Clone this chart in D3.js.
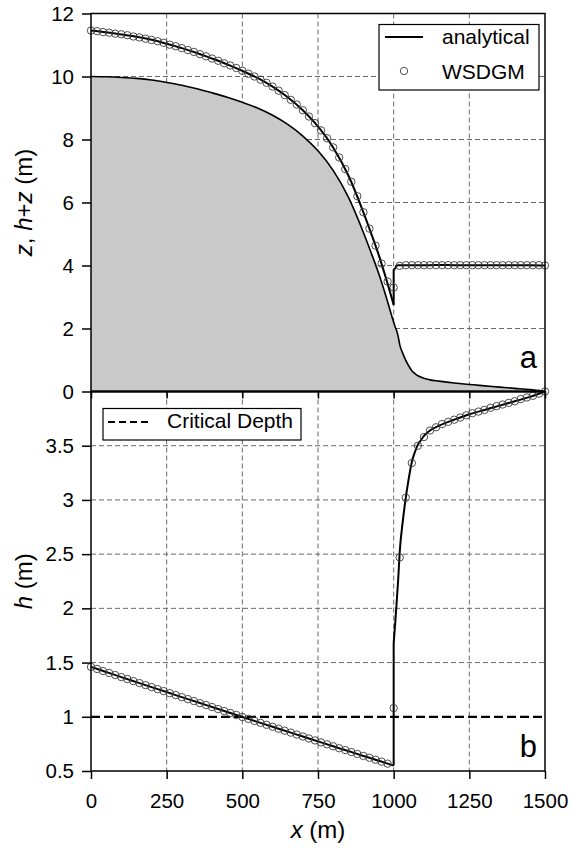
<!DOCTYPE html>
<html>
<head>
<meta charset="utf-8">
<script src="https://cdn.jsdelivr.net/npm/d3@7"></script>
<style>
  body { margin: 0; background: #fff; }
  text { font-family: "Liberation Sans", Arial, Helvetica, sans-serif; fill: #000; }
</style>
</head>
<body>
<svg id="chart" width="571" height="848"></svg>
<script>
// ---- Numerical (WSDGM) solution, sampled every 20 m ----
const gridX = [
  0, 20, 40, 60, 80, 100, 120, 140, 160, 180, 200, 220, 240, 260, 280, 300, 320, 340, 360, 380,
  400, 420, 440, 460, 480, 500, 520, 540, 560, 580, 600, 620, 640, 660, 680, 700, 720, 740, 760, 780,
  800, 820, 840, 860, 880, 900, 920, 940, 960, 980, 1000, 1020, 1040, 1060, 1080, 1100, 1120, 1140, 1160, 1180,
  1200, 1220, 1240, 1260, 1280, 1300, 1320, 1340, 1360, 1380, 1400, 1420, 1440, 1460, 1480, 1500
];
const wsdgmDepth = [
  1.460, 1.441, 1.422, 1.404, 1.385, 1.366, 1.348, 1.329, 1.311, 1.292, 1.274, 1.255, 1.237, 1.218, 1.200, 1.181, 1.163, 1.145, 1.126, 1.108,
  1.090, 1.071, 1.053, 1.035, 1.017, 0.998, 0.980, 0.962, 0.944, 0.926, 0.908, 0.890, 0.872, 0.854, 0.836, 0.818, 0.800, 0.782, 0.764, 0.746,
  0.728, 0.710, 0.693, 0.675, 0.657, 0.639, 0.622, 0.604, 0.586, 0.568, 1.08, 2.47, 3.02, 3.34, 3.50, 3.58, 3.64, 3.67, 3.70, 3.72,
  3.74, 3.76, 3.78, 3.80, 3.815, 3.83, 3.85, 3.865, 3.88, 3.895, 3.91, 3.93, 3.945, 3.96, 3.98, 4.00
];
const wsdgmStage = [
  11.46, 11.44, 11.41, 11.39, 11.36, 11.34, 11.31, 11.27, 11.24, 11.20, 11.16, 11.12, 11.07, 11.01, 10.96, 10.90, 10.84, 10.78, 10.71, 10.64,
  10.57, 10.50, 10.42, 10.35, 10.27, 10.18, 10.09, 10.00, 9.90, 9.80, 9.68, 9.55, 9.41, 9.26, 9.11, 8.93, 8.73, 8.52, 8.29, 8.04,
  7.75, 7.43, 7.06, 6.66, 6.20, 5.69, 5.17, 4.63, 4.06, 3.49, 3.30, 3.99, 4.01, 4.01, 4.01, 4.01, 4.01, 4.01, 4.01, 4.01,
  4.01, 4.01, 4.01, 4.01, 4.01, 4.01, 4.01, 4.01, 4.01, 4.01, 4.01, 4.01, 4.01, 4.01, 4.01, 4.00
];

// ---- Analytical solution: supercritical reach upstream of the jump ----
const preX     = [0, 50, 100, 150, 200, 250, 300, 350, 400, 450, 500, 550, 600, 650, 700, 750, 800, 850, 900, 925, 950, 975, 1000];
const preBed   = [10.00, 9.99, 9.97, 9.94, 9.89, 9.81, 9.72, 9.61, 9.48, 9.34, 9.18, 9.00, 8.77, 8.48, 8.11, 7.64, 7.02, 6.18, 5.05, 4.42, 3.76, 3.01, 2.20];
const preDepth = [1.460, 1.413, 1.366, 1.320, 1.274, 1.228, 1.181, 1.136, 1.090, 1.044, 0.998, 0.953, 0.908, 0.863, 0.818, 0.773, 0.728, 0.684, 0.639, 0.617, 0.595, 0.573, 0.550];

// ---- Analytical solution: subcritical reach downstream of the jump ----
const postX     = [1000, 1005, 1010, 1015, 1020, 1030, 1040, 1050, 1060, 1070, 1080, 1090, 1100, 1120, 1150, 1200, 1250, 1300, 1350, 1400, 1450, 1500];
const postBed   = [2.20, 2.05, 1.93, 1.74, 1.49, 1.21, 0.99, 0.81, 0.66, 0.57, 0.50, 0.46, 0.42, 0.37, 0.33, 0.27, 0.22, 0.18, 0.14, 0.10, 0.06, 0.00];
const postDepth = [1.68, 1.86, 2.06, 2.27, 2.52, 2.80, 3.02, 3.20, 3.35, 3.44, 3.51, 3.55, 3.59, 3.64, 3.685, 3.74, 3.79, 3.83, 3.87, 3.91, 3.95, 4.00];

const criticalDepth = 1.0;

// ---- Tick labels ----
const xTicks  = [0, 250, 500, 750, 1000, 1250, 1500];
const yTicksA = [0, 2, 4, 6, 8, 10, 12];
const yTicksB = [0.5, 1, 1.5, 2, 2.5, 3, 3.5];

// ---- Layout ----
const L = 91, R = 545;
const topA = 13.5, botA = 391.5, topB = 391.5, botB = 771;

const svg = d3.select("#chart");
const x  = d3.scaleLinear().domain([0, 1500]).range([L, R]);
const yA = d3.scaleLinear().domain([0, 12]).range([botA, topA]);
const yB = d3.scaleLinear().domain([0.5, 4]).range([botB, topB]);

const pre  = preX.map((v, i) => ({ x: v, bed: preBed[i], h: preDepth[i] }));
const post = postX.map((v, i) => ({ x: v, bed: postBed[i], h: postDepth[i] }));
const bedPts = pre.concat(post.filter(d => d.x > 1000));
const num = gridX.map((v, i) => ({ x: v, h: wsdgmDepth[i], s: wsdgmStage[i] }));

const gridColor = "#6a6a6a";

function grid(g, y, yt, top, bot) {
  g.selectAll("line.gx").data(xTicks.slice(1, -1)).join("line")
    .attr("x1", d => x(d)).attr("x2", d => x(d))
    .attr("y1", top).attr("y2", bot)
    .attr("stroke", gridColor).attr("stroke-width", 1).attr("stroke-dasharray", "5,3");
  g.selectAll("line.gy").data(yt).join("line")
    .attr("x1", L).attr("x2", R)
    .attr("y1", d => y(d)).attr("y2", d => y(d))
    .attr("stroke", gridColor).attr("stroke-width", 1).attr("stroke-dasharray", "5,3");
}

// ================= Panel a : bed and water surface =================
const ga = svg.append("g");
const gaGrid = ga.append("g");
grid(gaGrid, yA, [2, 4, 6, 8, 10], topA, botA);

// Bed (shaded)
ga.append("path")
  .datum(bedPts)
  .attr("fill", "#c9c9c9")
  .attr("d", d3.area().x(d => x(d.x)).y0(yA(0)).y1(d => yA(d.bed)).curve(d3.curveMonotoneX));
ga.append("path")
  .datum(bedPts)
  .attr("fill", "none").attr("stroke", "#000").attr("stroke-width", 1.6)
  .attr("d", d3.line().x(d => x(d.x)).y(d => yA(d.bed)).curve(d3.curveMonotoneX));

// Analytical water surface h+z
const stageLine = d3.line().x(d => x(d.x)).y(d => yA(d.bed + d.h)).curve(d3.curveMonotoneX);
ga.append("path").datum(pre).attr("fill", "none").attr("stroke", "#000").attr("stroke-width", 2)
  .attr("stroke-linejoin", "round").attr("d", stageLine);
ga.append("path").datum(post).attr("fill", "none").attr("stroke", "#000").attr("stroke-width", 2)
  .attr("stroke-linejoin", "round").attr("d", stageLine);
ga.append("line")
  .attr("x1", x(1000)).attr("x2", x(1000))
  .attr("y1", yA(pre[pre.length - 1].bed + pre[pre.length - 1].h))
  .attr("y2", yA(post[0].bed + post[0].h))
  .attr("stroke", "#000").attr("stroke-width", 2);

// ================= Panel b : depth =================
const gb = svg.append("g");
grid(gb, yB, [1.5, 2, 2.5, 3, 3.5], topB, botB);

gb.append("line")
  .attr("x1", L).attr("x2", R).attr("y1", yB(criticalDepth)).attr("y2", yB(criticalDepth))
  .attr("stroke", "#000").attr("stroke-width", 2.2).attr("stroke-dasharray", "9,4");

const depthLine = d3.line().x(d => x(d.x)).y(d => yB(d.h)).curve(d3.curveMonotoneX);
gb.append("path").datum(pre).attr("fill", "none").attr("stroke", "#000").attr("stroke-width", 2).attr("d", depthLine);
gb.append("path").datum(post).attr("fill", "none").attr("stroke", "#000").attr("stroke-width", 2).attr("d", depthLine);
gb.append("line")
  .attr("x1", x(1000)).attr("x2", x(1000))
  .attr("y1", yB(pre[pre.length - 1].h)).attr("y2", yB(post[0].h))
  .attr("stroke", "#000").attr("stroke-width", 2);

// Numerical markers
const circ = { r: 3.7, stroke: "#3a3a3a", sw: 0.9 };
gb.selectAll("circle").data(num).join("circle")
  .attr("cx", d => x(d.x)).attr("cy", d => yB(d.h)).attr("r", circ.r)
  .attr("fill", "none").attr("stroke", circ.stroke).attr("stroke-width", circ.sw);
ga.selectAll("circle").data(num).join("circle")
  .attr("cx", d => x(d.x)).attr("cy", d => yA(d.s)).attr("r", circ.r)
  .attr("fill", "none").attr("stroke", circ.stroke).attr("stroke-width", circ.sw);

// ================= Frames and axes =================
svg.append("rect").attr("x", L).attr("y", topA).attr("width", R - L).attr("height", botA - topA)
  .attr("fill", "none").attr("stroke", "#000").attr("stroke-width", 1.5);
svg.append("rect").attr("x", L).attr("y", topB).attr("width", R - L).attr("height", botB - topB)
  .attr("fill", "none").attr("stroke", "#000").attr("stroke-width", 1.5);
svg.append("line").attr("x1", L).attr("x2", R).attr("y1", botA).attr("y2", botA)
  .attr("stroke", "#000").attr("stroke-width", 2.2);

function styleAxis(g) {
  g.select(".domain").remove();
  g.selectAll(".tick line").attr("stroke", "#000").attr("stroke-width", 1.5);
  g.selectAll(".tick text").style("font-size", "20.5px").attr("fill", "#000")
    .style("font-family", '"Liberation Sans", Arial, sans-serif');
}

svg.append("g").attr("transform", `translate(${L},0)`)
  .call(d3.axisLeft(yA).tickValues(yTicksA).tickSize(9).tickPadding(8).tickFormat(d3.format("d")))
  .call(styleAxis);
svg.append("g").attr("transform", `translate(${L},0)`)
  .call(d3.axisLeft(yB).tickValues(yTicksB).tickSize(9).tickPadding(8).tickFormat(d => String(d)))
  .call(styleAxis);
svg.append("g").attr("transform", `translate(0,${botB})`)
  .call(d3.axisBottom(x).tickValues(xTicks).tickSize(8).tickPadding(14).tickFormat(d3.format("d")))
  .call(styleAxis);
// short ticks under the upper panel
svg.append("g").attr("transform", `translate(0,${botA})`)
  .call(d3.axisBottom(x).tickValues(xTicks).tickSize(7).tickFormat(""))
  .call(styleAxis);

// ================= Axis titles =================
const titleSize = "24px";
const xt = svg.append("text").attr("x", (L + R) / 2).attr("y", 838).attr("text-anchor", "middle").style("font-size", titleSize);
xt.append("tspan").attr("font-style", "italic").text("x");
xt.append("tspan").text(" (m)");

const yta = svg.append("text").attr("transform", `translate(32,${(topA + botA) / 2}) rotate(-90)`)
  .attr("text-anchor", "middle").style("font-size", titleSize);
yta.append("tspan").attr("font-style", "italic").text("z");
yta.append("tspan").text(", ");
yta.append("tspan").attr("font-style", "italic").text("h");
yta.append("tspan").text("+");
yta.append("tspan").attr("font-style", "italic").text("z");
yta.append("tspan").text(" (m)");

const ytb = svg.append("text").attr("transform", `translate(32,${(topB + botB) / 2}) rotate(-90)`)
  .attr("text-anchor", "middle").style("font-size", titleSize);
ytb.append("tspan").attr("font-style", "italic").text("h");
ytb.append("tspan").text(" (m)");

// Panel letters
svg.append("text").attr("x", 537).attr("y", 368).attr("text-anchor", "end").style("font-size", "31px").text("a");
svg.append("text").attr("x", 537).attr("y", 757).attr("text-anchor", "end").style("font-size", "31px").text("b");

// ================= Legends =================
const legA = svg.append("g");
legA.append("rect").attr("x", 379).attr("y", 24.5).attr("width", 160).attr("height", 65.5)
  .attr("fill", "#fff").attr("stroke", "#000").attr("stroke-width", 1.2);
legA.append("line").attr("x1", 385).attr("x2", 423).attr("y1", 37).attr("y2", 37)
  .attr("stroke", "#000").attr("stroke-width", 2);
legA.append("circle").attr("cx", 404).attr("cy", 71).attr("r", circ.r)
  .attr("fill", "none").attr("stroke", circ.stroke).attr("stroke-width", circ.sw);
legA.append("text").attr("x", 442).attr("y", 43.5).style("font-size", "21px").text("analytical");
legA.append("text").attr("x", 442).attr("y", 79.3).style("font-size", "21px").text("WSDGM");

const legB = svg.append("g");
legB.append("rect").attr("x", 103).attr("y", 408.5).attr("width", 198).attr("height", 31.5)
  .attr("fill", "#fff").attr("stroke", "#000").attr("stroke-width", 1.2);
legB.append("line").attr("x1", 108).attr("x2", 148).attr("y1", 422).attr("y2", 422)
  .attr("stroke", "#000").attr("stroke-width", 2).attr("stroke-dasharray", "7,4");
legB.append("text").attr("x", 167).attr("y", 428.3).style("font-size", "21px").text("Critical Depth");
</script>
</body>
</html>
